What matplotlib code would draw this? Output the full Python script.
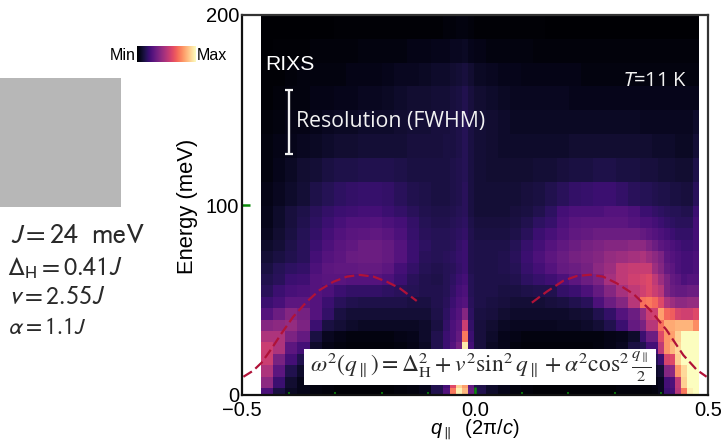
import numpy as np
import matplotlib
matplotlib.use("Agg")
import matplotlib.pyplot as plt
from matplotlib.patches import Rectangle

W, H = 727, 442
plt.rcParams['font.family'] = ['Liberation Sans', 'DejaVu Sans']
plt.rcParams['mathtext.fontset'] = 'custom'
plt.rcParams['mathtext.rm'] = 'Liberation Sans'
plt.rcParams['mathtext.it'] = 'Liberation Sans:italic'
plt.rcParams['mathtext.fallback'] = 'stix'

# Bin edges of the RIXS map
q_edges = np.concatenate([np.linspace(-0.459, -0.0687, 16),
                          [-0.0547, -0.0408, -0.0279, -0.015, -0.0021],
                          np.linspace(-0.0021, 0.354, 15)[1:],
                          np.linspace(0.354, 0.481, 11)[1:]])
energy_edges = np.concatenate([[0], np.arange(3.7, 100, 6.0), np.linspace(99.7, 200, 9)[1:]])

# Intensity (0-100), bottom row first
r00 = [24,12,7,5,3,2,1,1,1,1,1,2,3,5,14, 25,72,97,85,32, 14,8,5,3,2,1,1,1,1,1,1,1,2,2, 2,2,3,6,20,22,50,72,97,100]
r01 = [40,20,9,5,3,2,1,1,1,1,1,2,3,5,14, 22,60,90,80,30, 13,8,5,3,2,1,1,1,1,1,1,1,2,2, 2,2,4,6,22,24,52,90,100,100]
r02 = [48,28,14,8,4,2,1,1,1,1,1,2,3,6,14, 22,30,60,60,25, 12,7,4,3,2,1,1,1,1,1,2,2,3,3, 4,5,8,10,38,40,78,92,100,100]
r03 = [55,35,22,14,5,2,1,1,1,1,1,2,3,6,14, 22,28,50,60,22, 12,7,4,3,2,1,1,1,1,1,2,2,3,4, 6,8,14,20,58,60,90,100,100,100]
r04 = [55,48,28,22,8,4,3,2,2,2,2,3,4,7,14, 20,26,34,96,22, 11,7,5,3,2,2,2,2,2,2,3,4,6,12, 14,22,22,52,78,85,92,100,100,100]
r05 = [48,48,36,30,12,6,4,3,3,3,3,4,5,8,14, 20,24,30,72,20, 11,8,5,4,3,3,3,3,3,3,3,4,5,8, 20,32,32,60,78,80,90,100,100,100]
r06 = [38,40,42,36,20,12,10,8,7,7,7,7,7,8,12, 18,24,28,55,18, 11,9,7,6,6,6,6,7,7,8,10,14,20,30, 35,50,50,70,82,82,84,84,84,76]
r07 = [26,32,38,34,26,18,12,10,10,10,10,10,10,10,13, 17,22,26,38,17, 12,11,9,8,8,8,8,8,9,10,14,18,26,32, 42,55,56,80,68,66,58,56,56,60]
r08 = [20,23,28,28,26,20,16,14,13,13,13,13,12,12,14, 16,20,24,26,16, 13,12,11,10,10,10,11,12,14,16,24,32,38,50, 70,72,68,60,48,44,40,40,42,42]
r09 = [16,20,23,24,26,24,20,18,18,18,17,16,15,14,14, 15,18,22,24,15, 13,13,12,12,13,14,14,18,20,24,30,38,46,52, 56,60,55,50,36,32,30,30,32,32]
r10 = [14,16,20,21,26,27,27,26,26,26,24,20,16,14,13, 15,17,20,22,15, 13,13,13,14,17,19,21,24,28,32,36,46,52,56, 58,60,52,44,36,30,28,24,26,26]
r11 = [12,15,17,18,24,28,29,29,30,30,28,22,18,15,14, 15,16,18,20,14, 13,13,14,15,19,22,26,30,32,34,40,44,52,54, 54,54,44,38,30,28,24,22,22,24]
r12 = [10,12,14,16,22,26,28,31,32,32,30,26,20,16,15, 16,17,19,20,14, 13,13,14,16,20,24,28,31,34,36,38,42,44,46, 48,44,40,36,28,26,24,22,22,24]
r13 = [8,10,13,16,20,24,27,29,32,32,30,26,20,17,15, 15,16,18,20,14, 13,13,13,15,19,22,26,29,32,34,36,38,38,40, 40,36,32,28,26,24,22,20,20,22]
r14 = [6,9,12,15,18,22,25,27,28,29,27,24,19,16,15, 15,16,17,18,14, 12,12,12,13,16,20,23,26,29,30,32,32,32,32, 30,28,26,24,22,20,18,18,18,22]
r15 = [5,8,11,14,17,20,23,25,25,26,24,22,18,15,14, 14,15,16,17,13, 11,11,11,12,14,17,19,24,27,28,28,28,28,26, 24,24,22,20,18,17,16,16,16,22]
r16 = [5,8,11,13,16,18,20,21,22,22,20,18,16,14,13, 13,14,15,16,12, 10,10,10,11,12,14,17,22,24,24,24,26,26,24, 20,20,18,17,16,15,15,14,14,20]
r17 = [4,6,8,10,13,15,17,18,19,19,18,16,14,13,12, 12,13,14,16,12, 10,10,10,10,11,12,14,16,18,19,20,20,18,16, 15,15,14,13,13,12,12,11,11,16]
r18 = [3,5,7,9,10,12,13,13,14,14,14,13,12,12,12, 12,13,14,15,12, 10,9,9,9,9,10,10,11,12,12,13,13,12,12, 11,11,11,10,10,10,9,9,9,13]
r19 = [3,4,5,6,7,8,9,9,10,10,10,10,11,11,11, 12,12,13,15,12, 10,9,8,8,8,8,8,8,9,9,9,9,9,9, 9,9,8,8,8,8,7,7,7,10]
r20 = [2,3,4,4,5,6,7,7,8,8,8,9,10,10,11, 11,12,13,15,12, 10,9,8,7,7,7,7,7,7,7,7,7,7,7, 6,6,6,6,6,6,6,6,6,8]
r21 = [1,2,3,3,4,4,5,5,6,6,7,8,9,9,10, 10,11,12,14,11, 9,8,7,6,6,6,6,6,5,5,5,5,5,5, 5,5,5,5,5,5,5,5,5,5]
r22 = [1,1,2,3,3,3,3,4,4,4,5,6,6,7,8, 8,9,10,11,9, 7,6,5,5,4,4,4,4,4,3,3,3,3,3, 3,3,3,3,3,3,3,3,3,3]
r23 = [0,1,1,1,2,2,2,2,3,3,3,3,4,4,5, 5,6,6,7,5, 4,3,3,3,3,2,2,2,2,2,2,2,2,2, 2,2,2,2,2,2,2,2,2,2]
r24 = [0,0,0,0,0,0,1,1,1,1,1,1,1,1,1, 2,2,3,3,2, 1,1,1,1,1,1,0,0,0,0,0,0,0,0, 0,0,0,0,0,0,0,0,0,0]
intensity = np.array([r00,r01,r02,r03,r04,r05,r06,r07,r08,r09,r10,r11,r12,
                      r13,r14,r15,r16,r17,r18,r19,r20,r21,r22,r23,r24], dtype=float)

# Dispersion curve (dashed)
q_left = [-0.497,-0.476,-0.458,-0.436,-0.415,-0.390,-0.361,-0.333,-0.304,-0.275,-0.247,-0.218,-0.189,-0.161,-0.125]
e_left = [9.6,12.8,17.0,24.6,32.5,41.2,49.1,55.3,59.6,62.3,63.2,62.3,59.6,56.1,49.5]
q_right = [0.122,0.154,0.190,0.218,0.247,0.275,0.304,0.340,0.376,0.411,0.447,0.476,0.497]
e_right = [48.6,54.4,60.2,62.6,63.3,62.3,58.8,53.2,44.7,34.2,21.0,13.2,9.6]

res_q = -0.40
res_low, res_high = 127, 160.5

params = [r'$J=24\ \ \mathrm{meV}$', r'$\Delta_{\mathrm{H}}=0.41J$', r'$v=2.55J$', r'$\alpha=1.1J$']
equation = (r'$\omega^2(q_{\parallel})=\Delta_{\mathrm{H}}^2+v^2\sin^2 q_{\parallel}'
            r'+\alpha^2\cos^2\frac{q_{\parallel}}{2}$')

def fx(x): return x / W
def fy(y): return 1 - y / H
def box(x0, y0, x1, y1): return [fx(x0), fy(y1), (x1 - x0) / W, (y1 - y0) / H]

fig = plt.figure(figsize=(W / 100, H / 100), dpi=100, facecolor='white')

ax = fig.add_axes(box(242, 15, 708, 395))
ax.pcolormesh(q_edges, energy_edges, intensity, cmap='magma', vmin=0, vmax=100, shading='flat')
ax.set_xlim(-0.5, 0.5)
ax.set_ylim(0, 200)
ax.set_xticks([-0.5, 0, 0.5], ['\u22120.5', '0.0', '0.5'])
ax.set_yticks([0, 100, 200], ['0', '100', '200'])
ax.set_xticks(np.arange(-4, 5) / 10, minor=True)
ax.tick_params(which='major', direction='in', length=5.5, width=1.8, color='#0a8a0a',
               labelsize=14.5, pad=2)
ax.tick_params(axis='x', which='major', pad=4)
ax.tick_params(which='minor', direction='in', length=2.2, width=1.2, color='#0a8a0a')
for t in [ax.xaxis.get_major_ticks()[0], ax.xaxis.get_major_ticks()[2],
          ax.yaxis.get_major_ticks()[0], ax.yaxis.get_major_ticks()[2]]:
    t.tick1line.set_visible(False)
for s in ax.spines.values():
    s.set_linewidth(1.6)
    s.set_color('#111111')
ax.spines['top'].set_color('#333333')
ax.spines['right'].set_color('#333333')

ax.plot(q_left, e_left, color='#b01238', lw=1.6, ls=(0, (4.5, 2)), clip_on=True)
ax.plot(q_right, e_right, color='#b01238', lw=1.6, ls=(0, (4.5, 2)), clip_on=True)
ax.errorbar([res_q], [(res_low + res_high) / 2], yerr=[(res_high - res_low) / 2],
            color='#f2f2f2', lw=1.7, capsize=2.6, capthick=1.6)

fig.text(fx(475), fy(430), r'$q_{\parallel}$  (2π/$c$)', ha='center', va='center', fontsize=14.5)
fig.text(fx(187), fy(206), 'Energy (meV)', rotation=90, ha='center', va='center', fontsize=15.8)

fig.text(fx(265), fy(65), 'RIXS', color='white', fontsize=15.2, va='center')
fig.text(fx(296), fy(121), 'Resolution (FWHM)', color='#f2f2f2', fontsize=15.3,
         family='Open Sans', va='center')
fig.text(fx(621), fy(81), r'$\mathit{T}$=11 K', color='#f2f2f2', fontsize=14.5,
         family='Open Sans', va='center', math_fontfamily='stixsans')

fig.add_artist(Rectangle((fx(304), fy(385)), 352 / W, 36 / H, transform=fig.transFigure,
                         facecolor='white', edgecolor='none', zorder=5))
fig.text(fx(481), fy(367), equation, color='#2a2a2a', fontsize=16.9, ha='center', va='center',
         math_fontfamily='stix', zorder=6)

fig.add_artist(Rectangle((0, fy(207)), 121 / W, 129 / H, transform=fig.transFigure,
                         facecolor='#b7b7b7', edgecolor='none'))
for txt, x, y, size in zip(params, [10, 7, 8, 8], [236, 268, 297, 327], [20.3, 18.8, 18.6, 16.8]):
    fig.text(fx(x), fy(y), txt, color='#2a2a2a', fontsize=size, va='center',
             math_fontfamily='stixsans')

cax = fig.add_axes(box(137, 46, 196, 62))
cax.imshow(np.linspace(0, 1, 256)[None, :], cmap='magma', aspect='auto')
cax.axis('off')
fig.text(fx(136), fy(55), 'Min', ha='right', va='center', fontsize=11.5)
fig.text(fx(197), fy(55), 'Max', ha='left', va='center', fontsize=11.5)

fig.savefig('out.png', dpi=100)
